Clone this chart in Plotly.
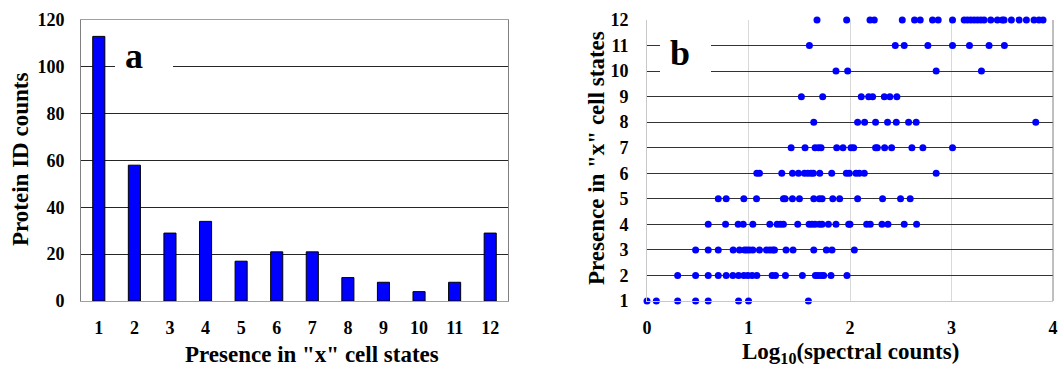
import plotly.graph_objects as go

# ---------------- data ----------------
states = list(range(1, 13))
protein_counts = [113, 58, 29, 34, 17, 21, 21, 10, 8, 4, 8, 29]
left_yticks = [0, 20, 40, 60, 80, 100, 120]
right_xticks = [0, 1, 2, 3, 4]

# log10(spectral counts) of proteins, grouped by number of cell states
log_s1 = [0.0, 0.092, 0.302, 0.479, 0.603, 0.902, 1.0, 1.590]
log_s2 = [0.302, 0.479, 0.603, 0.702, 0.780, 0.846, 0.902, 0.954, 0.993, 1.036, 1.082,
          1.233, 1.266, 1.364, 1.531, 1.659, 1.685, 1.715, 1.741, 1.813, 1.970]
log_s3 = [0.479, 0.603, 0.702, 0.849, 0.911, 0.961, 0.984, 1.010, 1.043, 1.108, 1.177,
          1.210, 1.239, 1.256, 1.370, 1.439, 1.643, 1.767, 1.823, 2.043]
log_s4 = [0.603, 0.774, 0.898, 0.948, 1.043, 1.210, 1.282, 1.315, 1.344, 1.485, 1.597,
          1.626, 1.656, 1.698, 1.725, 1.787, 1.862, 1.987, 2.000, 2.164, 2.200, 2.315,
          2.374, 2.534, 2.656]
log_s5 = [0.702, 0.780, 0.954, 1.079, 1.344, 1.361, 1.433, 1.502, 1.643, 1.698, 1.725,
          1.830, 1.898, 2.075, 2.321, 2.498, 2.593]
log_s6 = [1.082, 1.108, 1.328, 1.433, 1.492, 1.551, 1.584, 1.616, 1.639, 1.702, 1.820,
          1.964, 1.993, 2.059, 2.092, 2.141, 2.849]
log_s7 = [1.420, 1.557, 1.656, 1.689, 1.715, 1.869, 1.931, 2.010, 2.036, 2.252, 2.269,
          2.341, 2.410, 2.610, 2.718, 3.010]
log_s8 = [1.643, 2.075, 2.144, 2.252, 2.370, 2.456, 2.577, 2.652, 3.830]
log_s9 = [1.521, 1.731, 2.111, 2.184, 2.223, 2.338, 2.393, 2.462]
log_s10 = [1.862, 1.977, 2.849, 3.295]
log_s11 = [1.600, 2.446, 2.534, 2.767, 3.010, 3.177, 3.370, 3.521]
log_s12 = [1.675, 1.967, 2.197, 2.239, 2.515, 2.636, 2.692, 2.813, 2.869, 3.010, 3.125,
           3.157, 3.190, 3.223, 3.256, 3.289, 3.321, 3.387, 3.452, 3.500, 3.518, 3.590,
           3.666, 3.738, 3.813, 3.862, 3.902]

rows = [log_s1, log_s2, log_s3, log_s4, log_s5, log_s6,
        log_s7, log_s8, log_s9, log_s10, log_s11, log_s12]

# ---------------- layout helpers ----------------
W, H = 1063, 368
def px(x):
    return x / W
def py(y):
    return 1 - y / H

FONT = "Liberation Serif, Times New Roman, serif"
BLUE = "#0000FF"

fig = go.Figure()

fig.add_trace(go.Bar(
    x=states, y=protein_counts, xaxis="x", yaxis="y",
    marker=dict(color=BLUE, line=dict(color="#000000", width=1)),
    showlegend=False,
))

sx, sy = [], []
for s, vals in zip(states, rows):
    sx.extend(vals)
    sy.extend([s] * len(vals))

fig.add_trace(go.Scatter(
    x=sx, y=sy, xaxis="x2", yaxis="y2", mode="markers",
    marker=dict(color=BLUE, size=7, line=dict(width=0)),
    cliponaxis=False, showlegend=False,
))

tickfont = dict(family=FONT, size=18, color="#000000", weight="bold")
titlefont = dict(family=FONT, size=23, color="#000000", weight="bold")

fig.update_layout(
    width=W, height=H,
    margin=dict(l=0, r=0, t=0, b=0, autoexpand=False),
    paper_bgcolor="white", plot_bgcolor="white",
    bargap=0.66,
    xaxis=dict(
        domain=[px(81), px(508)], range=[0.5, 12.5], automargin=False,
        tickvals=states, ticktext=[str(s) for s in states],
        tickfont=tickfont, ticks="outside", ticklen=10, tickcolor="rgba(0,0,0,0)",
        showgrid=False, zeroline=False,
        showline=True, linecolor="#a0a0a0", linewidth=1, mirror=True,
    ),
    yaxis=dict(
        domain=[py(301), py(20)], range=[0, 120], automargin=False,
        tickvals=left_yticks, tickfont=tickfont,
        ticks="outside", ticklen=12, tickcolor="rgba(0,0,0,0)",
        showgrid=True, gridcolor="#262626", gridwidth=1, zeroline=False,
        showline=True, linecolor="#808080", linewidth=1, mirror=True,
    ),
    xaxis2=dict(
        domain=[px(647), px(1053)], range=[0, 4], anchor="y2", automargin=False,
        tickvals=right_xticks, tickfont=tickfont,
        ticks="outside", ticklen=10, tickcolor="rgba(0,0,0,0)",
        showgrid=True, gridcolor="#d9d9d9", gridwidth=1, zeroline=False,
        showline=True, linecolor="#c8c8c8", linewidth=1,
    ),
    yaxis2=dict(
        domain=[py(301), py(20)], range=[1, 12], anchor="x2", automargin=False,
        tickvals=states, tickfont=tickfont,
        ticks="outside", ticklen=14, tickcolor="rgba(0,0,0,0)",
        showgrid=True, gridcolor="#333333", gridwidth=1, zeroline=False,
        showline=True, linecolor="#c8c8c8", linewidth=1,
    ),
    shapes=[
        # right border of panel b
        dict(type="line", xref="x2 domain", yref="y2 domain", x0=1, x1=1, y0=0, y1=1,
             line=dict(color="#808080", width=1)),
        # white boxes behind panel labels
        dict(type="rect", xref="paper", yref="paper", x0=px(115), x1=px(173),
             y0=py(80), y1=py(40), fillcolor="white", line=dict(width=0), layer="above"),
        dict(type="rect", xref="paper", yref="paper", x0=px(660), x1=px(711),
             y0=py(80), y1=py(32), fillcolor="white", line=dict(width=0), layer="above"),
    ],
    annotations=[
        dict(text="a", xref="paper", yref="paper", x=px(134), y=py(56),
             xanchor="center", yanchor="middle", showarrow=False,
             font=dict(family=FONT, size=36, color="#000000", weight="bold")),
        dict(text="b", xref="paper", yref="paper", x=px(680), y=py(53),
             xanchor="center", yanchor="middle", showarrow=False,
             font=dict(family=FONT, size=36, color="#000000", weight="bold")),
        dict(text="Protein ID counts", xref="paper", yref="paper", x=px(21), y=py(160),
             textangle=-90, xanchor="center", yanchor="middle", showarrow=False,
             font=titlefont),
        dict(text="Presence in \"x\" cell states", xref="paper", yref="paper",
             x=px(312), y=py(354), xanchor="center", yanchor="middle", showarrow=False,
             font=titlefont),
        dict(text="Presence in \"x\" cell states", xref="paper", yref="paper",
             x=px(596), y=py(158), textangle=-90, xanchor="center", yanchor="middle",
             showarrow=False, font=titlefont),
        dict(text="Log<sub>10</sub>(spectral counts)", xref="paper", yref="paper",
             x=px(850), y=py(353), xanchor="center", yanchor="middle", showarrow=False,
             font=titlefont),
    ],
)

fig.write_html(
    "out.html",
    config={"displayModeBar": False},
    post_script="document.body.style.margin='0';document.body.style.overflow='hidden';",
)
